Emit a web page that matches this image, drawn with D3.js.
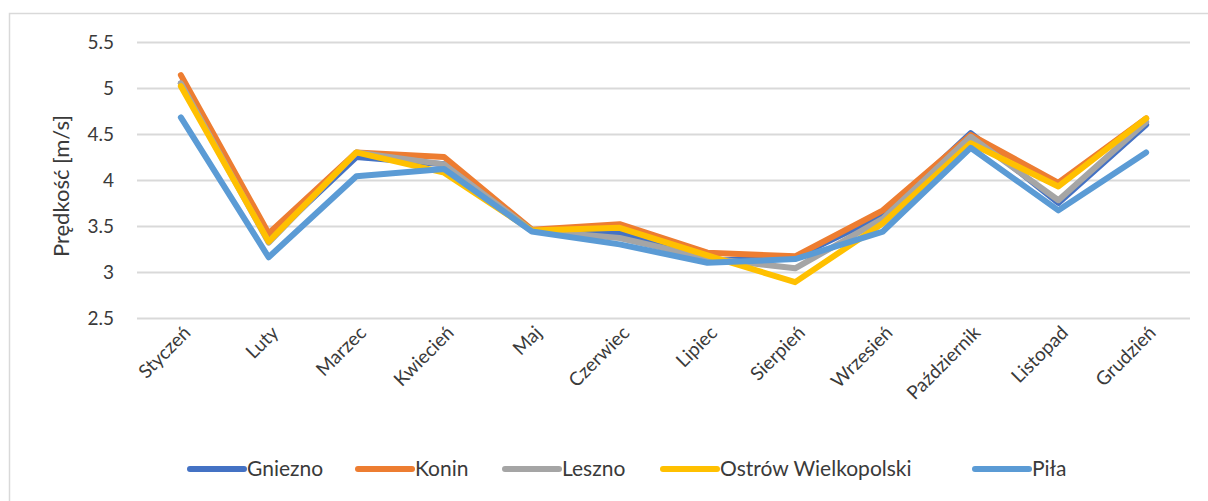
<!DOCTYPE html>
<html><head><meta charset="utf-8">
<script src="https://cdn.jsdelivr.net/npm/d3@7"></script>
<style>body{margin:0;background:#fff}svg{display:block}text{font-family:Lato,"Open Sans",sans-serif;fill:#3a3a3a}</style>
</head><body><svg id="c" width="1208" height="501"></svg>
<script>
const months = ["Styczeń","Luty","Marzec","Kwiecień","Maj","Czerwiec","Lipiec","Sierpień","Wrzesień","Październik","Listopad","Grudzień"];
const seriesNames = ["Gniezno","Konin","Leszno","Ostrów Wielkopolski","Piła"];
const gniezno = [5.05,3.35,4.25,4.17,3.45,3.42,3.12,3.16,3.62,4.51,3.75,4.60];
const konin   = [5.14,3.42,4.30,4.25,3.46,3.52,3.21,3.17,3.67,4.49,3.97,4.67];
const leszno  = [5.05,3.32,4.30,4.17,3.45,3.37,3.15,3.04,3.58,4.47,3.78,4.63];
const ostrow  = [5.02,3.33,4.30,4.08,3.45,3.48,3.18,2.89,3.53,4.40,3.93,4.67];
const pila    = [4.68,3.16,4.04,4.12,3.44,3.30,3.10,3.14,3.44,4.35,3.67,4.30];
const yTicks = [2.5,3,3.5,4,4.5,5,5.5];
const colors = ["#4472C4","#ED7D31","#A5A5A5","#FFC000","#5B9BD5"];
const allSeries = [gniezno,konin,leszno,ostrow,pila];

const svg = d3.select("#c");
svg.append("rect").attr("x",9.5).attr("y",13.5).attr("width",1210).attr("height",500)
  .attr("fill","none").attr("stroke","#d9d9d9").attr("stroke-width",1.5);

const x = d3.scaleBand().domain(months).range([137,1190]);
const y = d3.scaleLinear().domain([2.5,5.5]).range([318,42]);

const yAxis = d3.axisLeft(y).tickValues(yTicks).tickSize(-(1190-137)).tickPadding(23).tickFormat(d=>String(d));
const gy = svg.append("g").attr("transform","translate(137,0)").call(yAxis);
gy.select(".domain").remove();
gy.selectAll(".tick line").attr("stroke","#d9d9d9").attr("stroke-width",2);
gy.selectAll(".tick text").attr("font-size",19).style("fill","#3a3a3a").style("font-family","Lato");

const xAxis = d3.axisBottom(x).tickSize(0).tickPadding(0);
const gx = svg.append("g").attr("transform","translate(0,318)").call(xAxis);
gx.select(".domain").remove();
gx.selectAll(".tick text").attr("font-size",19).style("fill","#3a3a3a").style("font-family","Lato")
  .attr("text-anchor","end").attr("dy",0)
  .attr("transform","translate(11,16) rotate(-45)");

svg.append("text").attr("transform","translate(69,186) rotate(-90)")
  .attr("text-anchor","middle").attr("font-size",22).text("Prędkość [m/s]");

const line = d3.line().x((d,i)=>x(months[i])+x.bandwidth()/2).y(d=>y(d));
allSeries.forEach((s,k)=>{
  svg.append("path").datum(s).attr("d",line).attr("fill","none")
    .attr("stroke",colors[k]).attr("stroke-width",6)
    .attr("stroke-linejoin","round").attr("stroke-linecap","round");
});

const legX = [190,358,505,663,975];
const lg = svg.append("g");
seriesNames.forEach((n,k)=>{
  lg.append("line").attr("x1",legX[k]).attr("x2",legX[k]+54).attr("y1",469).attr("y2",469)
    .attr("stroke",colors[k]).attr("stroke-width",6).attr("stroke-linecap","round");
  lg.append("text").attr("x",legX[k]+57).attr("y",476).attr("font-size",21).text(n);
});
</script></body></html>
